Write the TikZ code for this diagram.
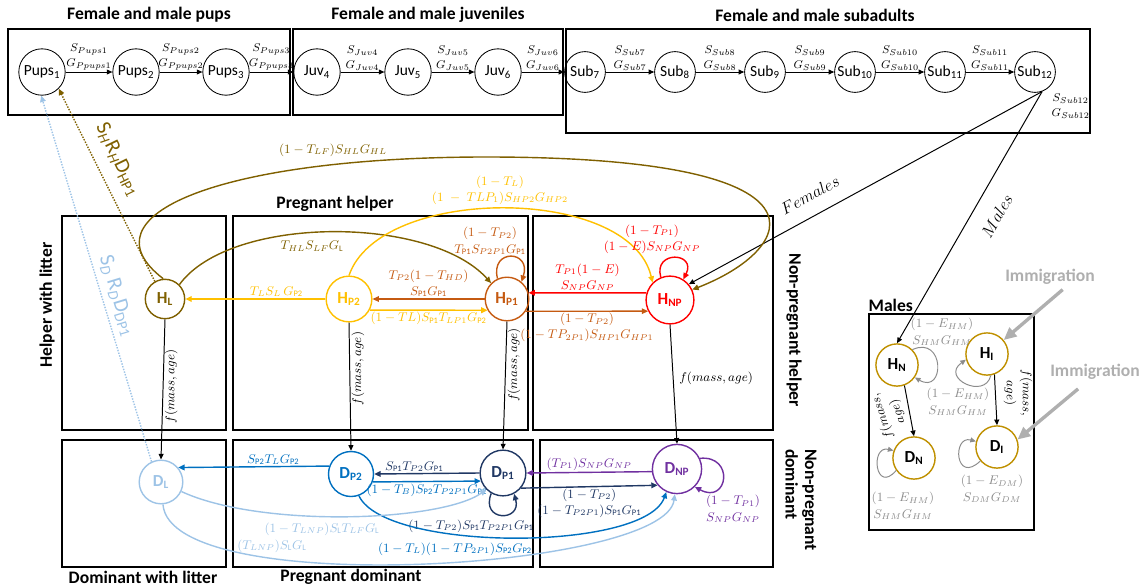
\documentclass[tikz,border=0pt]{standalone}
\usepackage{fontspec}
\setmainfont{Carlito}
\usetikzlibrary{arrows.meta}
\definecolor{helperL}{RGB}{127,96,0}
\definecolor{helperPtwo}{RGB}{255,192,0}
\definecolor{helperPone}{RGB}{197,90,17}
\definecolor{helperNP}{RGB}{255,0,0}
\definecolor{domL}{RGB}{157,195,230}
\definecolor{domPtwo}{RGB}{0,112,192}
\definecolor{domPone}{RGB}{32,56,100}
\definecolor{domNP}{RGB}{112,48,160}
\definecolor{maleRing}{RGB}{191,144,0}
\definecolor{immig}{RGB}{175,175,175}
\definecolor{loopgray}{RGB}{140,140,140}
\newcommand{\stg}[2]{\textbf{#1\textsubscript{#2}}}

\begin{document}
\begin{tikzpicture}[x=0.025cm, y=-0.025cm,
    box/.style={draw, line width=1.6pt},
    ttl/.style={font=\bfseries\fontsize{12.5}{14}\selectfont, inner sep=1pt},
    pop/.style={circle, draw, line width=0.6pt, inner sep=0.5pt, font=\fontsize{11}{12}\selectfont},
    stage/.style args={#1/#2}{circle, draw=#2, text=#2, line width=1pt, inner sep=0pt,
                              minimum size=#1, font=\fontsize{12}{13}\selectfont},
    male/.style={circle, draw=maleRing, line width=1pt, inner sep=0pt, minimum size=30pt,
                 font=\fontsize{12}{13}\selectfont},
    rate/.style={font=\fontsize{9}{11.5}\selectfont, align=center, inner sep=1pt},
    srate/.style={font=\fontsize{8.5}{10.5}\selectfont, align=center, inner sep=1pt},
    mrate/.style={rate, text=loopgray},
    flow/.style={-{Triangle[length=4pt,width=3.5pt]}, line width=0.7pt},
    link/.style={-{Triangle[length=4.5pt,width=4pt]}, line width=1pt, #1},
    gloop/.style={-{Triangle[length=4pt,width=3.5pt]}, line width=0.7pt, loopgray},
    immarr/.style={-{Triangle[length=9pt,width=8pt]}, line width=2.4pt, immig},
    imm/.style={font=\bfseries\fontsize{12.5}{14}\selectfont, text=immig}]
  \useasboundingbox (0,0) rectangle (1146,587);

  % Boxes and titles
  \draw[box] (8,29) rectangle (290,115);
  \draw[box] (293,29) rectangle (563,115);
  \draw[box] (566,29) rectangle (1090,133);
  \draw[box] (62,216) rectangle (226,430);
  \draw[box] (233,216) rectangle (528,430);
  \draw[box] (533,216) rectangle (773,430);
  \draw[box] (62,440) rectangle (226,567);
  \draw[box] (233,440) rectangle (533,567);
  \draw[box] (540,440) rectangle (773,567);
  \draw[box, line width=1.2pt] (869,314) rectangle (1034,530);

  \node[ttl] (tpups) at (149,15) {Female and male pups};
  \node[ttl] (tjuv) at (428,15) {Female and male juveniles};
  \node[ttl] (tsub) at (815,15) {Female and male subadults};
  \node[ttl, rotate=90] (thl) at (47,305) {Helper with litter};
  \node[ttl] (thp) at (335,204) {Pregnant helper};
  \node[ttl, rotate=-90] (thnp) at (794,330) {Non-pregnant helper};
  \node[ttl, rotate=-90, align=left] (tdnp) at (801,500) {Non-pregnant\\dominant};
  \node[ttl] (tdl) at (143,577) {Dominant with litter};
  \node[ttl] (tdp) at (351,577) {Pregnant dominant};
  \node[ttl, anchor=south west] (tmales) at (867,313) {Males};

  % Young stages
  \foreach \nm/\x/\txt/\idx in {pups1/42/Pups/1, pups2/136/Pups/2, pups3/226/Pups/3,
                                juv4/317/Juv/4, juv5/408/Juv/5, juv6/498/Juv/6}
    \node[pop, minimum size=33pt] (\nm) at (\x,72) {\txt\textsubscript{\idx}};
  \foreach \i/\x in {7/585, 8/675, 9/765, 10/855, 11/945, 12/1035}
    \node[pop, minimum size=29pt] (sub\i) at (\x,72) {Sub\textsubscript{\i}};

  \foreach \na/\nb/\sr/\gr in {pups1/pups2/Pups1/Ppups1, pups2/pups3/Pups2/Ppups2,
                               pups3/juv4/Pups3/Ppups3, juv4/juv5/Juv4/Juv4,
                               juv5/juv6/Juv5/Juv5, juv6/sub7/Juv6/Juv6}
    \draw[flow] (\na) -- (\nb) node[midway, above, srate] {$S_{\sr}$\\$G_{\gr}$};
  \foreach \i [evaluate=\i as \j using int(\i+1)] in {7,...,11}
    \draw[flow] (sub\i) -- (sub\j) node[midway, above, srate] {$S_{Sub\i}$\\$G_{Sub\i}$};
  \node[srate, anchor=north west] (lsub12) at (1050,92) {$S_{Sub12}$\\$G_{Sub12}$};

  % Helpers
  \node[stage={28pt/helperL}] (hl) at (165,299) {\stg{H}{L}};
  \node[stage={32.5pt/helperPtwo}] (hp2) at (349,299) {\stg{H}{P2}};
  \node[stage={31pt/helperPone}] (hp1) at (507,299) {\stg{H}{P1}};
  \node[stage={34pt/helperNP}] (hnp) at (670,300) {\stg{H}{NP}};

  % Dominants
  \node[stage={31pt/domL}] (dl) at (161,482) {\stg{D}{L}};
  \node[stage={32pt/domPtwo}] (dp2) at (351,474) {\stg{D}{P2}};
  \node[stage={32.5pt/domPone}] (dp1) at (503,473) {\stg{D}{P1}};
  \node[stage={35pt/domNP}] (dnp) at (677,469) {\stg{D}{NP}};

  % Males
  \node[male] (hn) at (897,365) {\stg{H}{N}};
  \node[male] (hi) at (987,354) {\stg{H}{I}};
  \node[male] (dn) at (914,458) {\stg{D}{N}};
  \node[male] (di) at (997,447) {\stg{D}{I}};

  % Recruitment back to pups
  \draw[link=helperL, densely dotted] (hl.120) -- (pups1.-45);
  \node[text=helperL, rotate=-64, font=\fontsize{15}{15}\selectfont] (lrh)
    at (118,160) {S\textsubscript{\textit{H}}R\textsubscript{\textit{H}}D\textsubscript{HP1}};
  \draw[link=domL, densely dotted] (dl.115) -- (pups1.-92);
  \node[text=domL, rotate=-73, font=\fontsize{15}{15}\selectfont] (lrd)
    at (117,296) {S\textsubscript{\textit{D}} R\textsubscript{\textit{D}}D\textsubscript{DP1}};

  % Subadults leave
  \draw[flow] (sub12.-70) -- (hnp.40);
  \draw[flow] (sub12.-70) -- (hn.north);
  \node[rotate=29, font=\fontsize{12}{13}\selectfont] (lfem) at (810,195) {$Females$};
  \node[rotate=60, font=\fontsize{12}{13}\selectfont] (lmal) at (997,216) {$Males$};

  % Helper transitions
  \draw[link=helperL] (hl.95) .. controls (80,215) and (220,158) .. (480,157)
    .. controls (850,156) and (795,250) .. (hnp.25);
  \node[rate, text=helperL] (lhlnp) at (333,150) {$(1 - T_{LF})S_{HL}G_{HL}$};
  \draw[link=helperL] (hl.45) .. controls (230,215) and (430,215) .. (hp1.135);
  \node[rate, text=helperL] (lhlp1) at (312,246) {$T_{HL}S_{LF}G_{\mathrm{L}}$};
  \draw[link=helperPtwo] (hp2.north) .. controls (380,185) and (630,185) .. (hnp.135);
  \node[rate, text=helperPtwo] (lhp2np) at (500,190) {$(1-T_{L})$\\$(1\;-\;TLP_{1})S_{HP2}G_{HP2}$};
  \draw[link=helperPone] (hp1.115) .. controls (490,248) and (532,250) .. (hp1.50);
  \node[rate, text=helperPone] (lhp1loop) at (490,241) {$(1-T_{P2})$\\$T_{\mathrm{P1}}S_{P2P1}G_{\mathrm{P1}}$};
  \draw[link=helperPone] (hp1.west) -- (hp2.east)
    node[midway, above, rate] {$T_{P2}(1-T_{HD})$\\$S_{\mathrm{P1}}G_{\mathrm{P1}}$};
  \draw[link=helperPtwo] (hp2.-28) -- (hp1.-150)
    node[midway, below, rate] {$(1-TL)S_{\mathrm{P1}}T_{LP1}G_{\mathrm{P2}}$};
  \draw[link=helperPtwo] (hp2.west) -- (hl.east)
    node[pos=.35, above, rate] {$T_{L}S_{L}\,G_{\mathrm{P2}}$};
  \draw[link=helperNP] (hnp.163) -- (hp1.16)
    node[midway, above, rate] {$T_{P1}(1-E)$\\$S_{NP}G_{NP}$};
  \draw[link=helperPone] (hp1.-33) -- (hnp.-153)
    node[midway, below, rate] {$(1-T_{P2})$\\$(1-TP_{2P1})S_{HP1}G_{HP1}$};
  \draw[link=helperNP] (hnp.112) .. controls (653,250) and (697,252) .. (hnp.57);
  \node[rate, text=helperNP] (lhnploop) at (652,239) {$(1-T_{P1})$\\$(1-E)S_{NP}G_{NP}$};

  % Helpers become dominant
  \draw[flow] (hl.south) -- (dl.north) node[pos=.48, rotate=90, anchor=north, rate] {$f(mass,age)$};
  \draw[flow] (hp2.south) -- (dp2.north) node[pos=.36, rotate=90, anchor=north, rate] {$f(mass,age)$};
  \draw[flow] (hp1.south) -- (dp1.north) node[pos=.34, rotate=90, anchor=north, rate] {$f(mass,age)$};
  \draw[flow] (hnp.south) -- (dnp.north) node[pos=.45, right=3pt, rate] {$f(mass,age)$};

  % Dominant transitions
  \draw[link=domPtwo] (dp2.160) -- (dl.40)
    node[pos=.37, above, rate] {$S_{\mathrm{P2}}T_{L}G_{\mathrm{P2}}$};
  \draw[link=domPone] (dp1.west) -- (dp2.east)
    node[pos=.62, above, rate] {$S_{\mathrm{P1}}T_{P2}G_{\mathrm{P1}}$};
  \draw[link=domPtwo] (dp2.-20) -- (dp1.-160)
    node[midway, below, rate] {$(1-T_{B})S_{\mathrm{P2}}T_{P2P1}G_{\mathrm{P2}}$};
  \draw[link=domPone] (dp1.-120) .. controls (480,522) and (522,522) .. (dp1.-62);
  \node[rate, text=domPone] (ldp1loop) at (471,526) {$(1-T_{P2})S_{\mathrm{P1}}T_{P2P1}G_{\mathrm{P1}}$};
  \draw[link=domPone] (dp1.-40) -- (dnp.-140)
    node[midway, below, rate] {$(1-T_{P2})$\\$(1-T_{P2P1})S_{\mathrm{P1}}G_{\mathrm{P1}}$};
  \draw[link=domNP] (dnp.186) -- (dp1.east)
    node[midway, above, rate] {$(T_{P1})S_{NP}G_{NP}$};
  \draw[link=domNP] (dnp.25) .. controls (735,455) and (728,505) .. (dnp.-45);
  \node[rate, text=domNP] (ldnploop) at (733,509) {$(1-T_{P1})$\\$S_{NP}G_{NP}$};
  \draw[link=domPtwo] (dp2.-70) .. controls (385,552) and (645,552) .. (dnp.-115);
  \node[rate, text=domPtwo] (ldp2np) at (455,549) {$(1-T_{L})(1-TP_{2P1})S_{\mathrm{P2}}G_{\mathrm{P2}}$};
  \draw[link=domL] (dl.-25) .. controls (260,528) and (440,522) .. (dp1.-135);
  \node[rate, text=domL] (ldlp1) at (322,529) {$(1-T_{LNP})S_{\mathrm{L}}T_{LF}G_{\mathrm{L}}$};
  \draw[link=domL] (dl.-85) .. controls (170,600) and (665,570) .. (dnp.-95);
  \node[rate, text=domL] (ldlnp) at (272,546) {$(T_{LNP})S_{\mathrm{L}}G_{\mathrm{L}}$};

  % Male transitions
  \draw[gloop] (hn.45) .. controls (945,335) and (945,395) .. (hn.-35);
  \node[mrate] (lhnloop) at (942,332) {$(1-E_{HM})$\\$S_{HM}G_{HM}$};
  \draw[gloop] (hi.-80) .. controls (985,400) and (940,378) .. (hi.195);
  \node[mrate] (lhiloop) at (958,402) {$(1-E_{HM})$\\$S_{HM}G_{HM}$};
  \draw[gloop] (dn.-145) .. controls (875,495) and (870,445) .. (dn.160);
  \node[mrate] (ldnloop) at (903,506) {$(1-E_{HM})$\\$S_{HM}G_{HM}$};
  \draw[gloop] (di.-140) .. controls (955,485) and (952,435) .. (di.165);
  \node[mrate] (ldiloop) at (992,489) {$(1-E_{DM})$\\$S_{DM}G_{DM}$};
  \draw[flow] (hn.-70) -- (dn.north);
  \node[rate, rotate=108] (lhndn) at (890,414) {$f(mass,$\\$age)$};
  \draw[flow] (hi.-70) -- (di.north);
  \node[rate, rotate=-90] (lhidi) at (1018,393) {$f(mass,$\\$age)$};

  % Immigration
  \node[imm] (imm1) at (1050,277) {Immigration};
  \node[imm] (imm2) at (1095,372) {Immigration};
  \draw[immarr] ([xshift=9pt]imm1.south) -- (hi.40);
  \draw[immarr] ([xshift=-12pt,yshift=-3pt]imm2.south) -- (di.20);
\end{tikzpicture}
\end{document}
